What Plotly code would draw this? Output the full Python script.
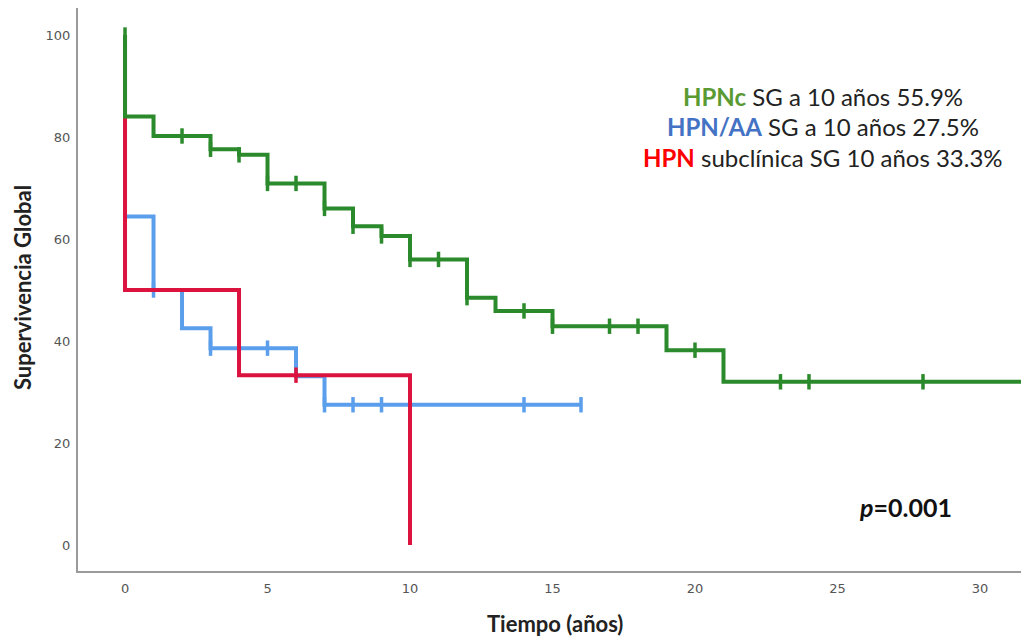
import plotly.graph_objects as go

# ---- data ----
green_t = [0, 0, 1, 3, 4, 5, 7, 8, 9, 10, 12, 13, 15, 19, 21, 32]
green_s = [100, 84.0, 80.2, 77.6, 76.5, 70.9, 66.0, 62.5, 60.6, 56.0, 48.5, 45.9, 42.9, 38.2, 32.0, 32.0]
green_cens_t = [0, 2, 3, 4, 5, 6, 7, 8, 9, 10, 11, 12, 14, 15, 17, 18, 20, 23, 24, 28]
green_cens_s = [100, 80.2, 77.6, 76.5, 70.9, 70.9, 66.0, 62.5, 60.6, 56.0, 56.0, 48.5, 45.9, 42.9, 42.9, 42.9, 38.2, 32.0, 32.0, 32.0]

blue_t = [0, 0, 1, 2, 3, 6, 7, 16]
blue_s = [100, 64.4, 50.0, 42.5, 38.6, 33.1, 27.5, 27.5]
blue_cens_t = [1, 3, 5, 7, 8, 9, 14, 16]
blue_cens_s = [50.0, 38.6, 38.6, 27.5, 27.5, 27.5, 27.5, 27.5]

red_t = [0, 0, 0, 4, 10]
red_s = [100, 83.3, 50.0, 33.3, 0]
red_cens_t = [6]
red_cens_s = [33.3]

x_ticks = [0, 5, 10, 15, 20, 25, 30]
y_ticks = [0, 20, 40, 60, 80, 100]

GREEN = "#2B8A2B"
BLUE = "#5B9FEC"
RED = "#DC133F"

fig = go.Figure()

def add_curve(t, s, ct, cs, color):
    fig.add_trace(go.Scatter(x=t, y=s, mode="lines", line=dict(color=color, width=4, shape="hv"),
                             showlegend=False, hoverinfo="skip"))
    fig.add_trace(go.Scatter(x=ct, y=cs, mode="markers",
                             marker=dict(symbol="line-ns", size=11, line=dict(color=color, width=3.5)),
                             showlegend=False, hoverinfo="skip"))

add_curve(blue_t, blue_s, blue_cens_t, blue_cens_s, BLUE)
add_curve(red_t, red_s, red_cens_t, red_cens_s, RED)
add_curve(green_t, green_s, green_cens_t, green_cens_s, GREEN)

ann_font = dict(family="Lato", size=24, color="#222222")
fig.add_annotation(x=24.5, y=88.0, xref="x", yref="y", showarrow=False, font=ann_font,
                   text="<b><span style='color:#5A9A33'>HPNc</span></b> SG a 10 años 55.9%")
fig.add_annotation(x=24.5, y=82.0, xref="x", yref="y", showarrow=False, font=ann_font,
                   text="<b><span style='color:#4472C4'>HPN/AA</span></b> SG a 10 años 27.5%")
fig.add_annotation(x=24.5, y=75.9, xref="x", yref="y", showarrow=False, font=ann_font,
                   text="<b><span style='color:#FF0000'>HPN</span></b> subclínica SG 10 años 33.3%")
fig.add_annotation(x=27.4, y=7.5, xref="x", yref="y", showarrow=False,
                   font=dict(family="Lato", size=25, color="#111111"),
                   text="<b><i>p</i>=0.001</b>")

# axis titles (placed as annotations)
fig.add_annotation(x=-0.0578, y=0.5027, xref="paper", yref="paper", showarrow=False, textangle=-90,
                   xanchor="center", yanchor="middle", borderpad=0,
                   font=dict(family="Lato", size=22, color="#222222"),
                   text="<b>Supervivencia Global</b>")
fig.add_annotation(x=0.5016, y=-0.0924, xref="paper", yref="paper", showarrow=False,
                   xanchor="center", yanchor="middle",
                   font=dict(family="Lato", size=22, color="#222222"),
                   text="<b>Tiempo (años)</b>")

# the page body adds an 8px offset; the figure is sized so the plot lands where the reference has it
fig.update_layout(
    width=1021, height=631,
    margin=dict(l=70, r=0, t=0, b=68, autoexpand=False),
    paper_bgcolor="white", plot_bgcolor="white",
    xaxis=dict(range=[-1.65, 31.72], tickvals=x_ticks, showgrid=False, zeroline=False,
               showline=True, linecolor="#9A9A9A", linewidth=2, ticks="", ticklabelstandoff=4,
               automargin=False,
               tickfont=dict(family="DejaVu Sans", size=13, color="#555555")),
    yaxis=dict(range=[-5.1, 105.3], tickvals=y_ticks, showgrid=False, zeroline=False,
               showline=True, linecolor="#9A9A9A", linewidth=2, ticks="", ticklabelstandoff=3,
               automargin=False,
               tickfont=dict(family="DejaVu Sans", size=13, color="#555555")),
)

fig.write_html("out.html")
